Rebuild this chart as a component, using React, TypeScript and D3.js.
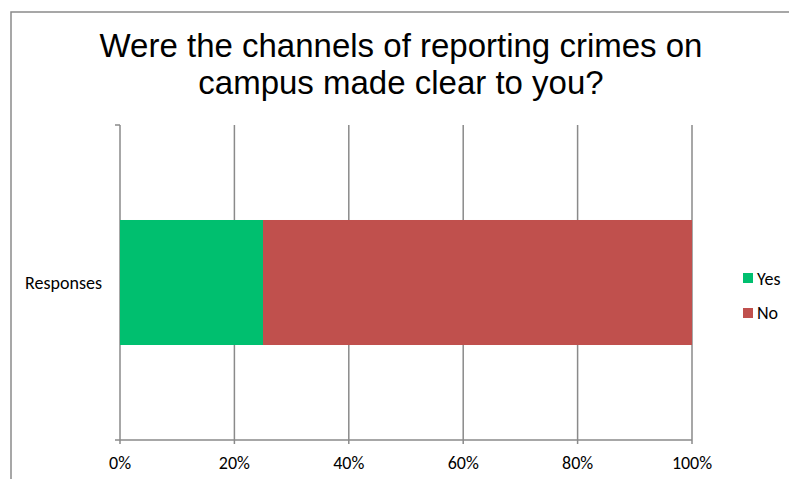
import React from "react";
import * as d3 from "d3";

const categories = ["Responses"];
const seriesNames = ["Yes", "No"];
const yesValues = [25];
const noValues = [75];
const seriesColors = ["#00BF6F", "#C0504D"];
const tickValues = [0, 20, 40, 60, 80, 100];
const titleLines = ["Were the channels of reporting crimes on", "campus made clear to you?"];

const W = 789;
const H = 479;

export default function App() {
  const x = d3.scaleLinear().domain([0, 100]).range([120, 692]);
  const y = d3.scaleBand<string>().domain(categories).range([125, 440]).paddingInner(0.4318).paddingOuter(0.4318);
  const stacked = d3.stack<any>().keys(seriesNames)(
    categories.map((c, i) => ({ cat: c, Yes: yesValues[i], No: noValues[i] }))
  );
  const labelFont = "Carlito, Lato, 'Open Sans', sans-serif";
  const grid = "#8a8a8a";
  const yTop = y.range()[0];
  const yBot = y.range()[1];
  return (
    <svg width={W} height={H} style={{ position: "absolute", left: 0, top: 0 }}>
      <rect x={0} y={0} width={W} height={H} fill="#fff" />
      <rect x={11} y={12} width={W + 20} height={H + 20} fill="none" stroke="#8a8a8a" strokeWidth={1.5} />
      {titleLines.map((t, i) => (
        <text key={i} x={401} y={57 + i * 37} textAnchor="middle" fontFamily="'Liberation Sans', Arial, sans-serif" fontSize={33} fill="#000">
          {t}
        </text>
      ))}
      {tickValues.map((v) => (
        <g key={v}>
          <line x1={x(v)} x2={x(v)} y1={yTop} y2={yBot + 4} stroke={grid} strokeWidth={1.5} />
          <text x={x(v)} y={469} textAnchor="middle" fontFamily={labelFont} fontSize={18} fill="#000">
            {v}%
          </text>
        </g>
      ))}
      <line x1={x(0) - 5} x2={x(0)} y1={yTop} y2={yTop} stroke={grid} strokeWidth={1.5} />
      <line x1={x(0) - 5} x2={x(100)} y1={yBot} y2={yBot} stroke={grid} strokeWidth={1.5} />
      {stacked.map((s, si) =>
        s.map((d, di) => (
          <rect
            key={si + "-" + di}
            x={x(d[0])}
            y={y(categories[di])}
            width={x(d[1]) - x(d[0])}
            height={y.bandwidth()}
            fill={seriesColors[si]}
          />
        ))
      )}
      {categories.map((c) => (
        <text key={c} x={102} y={(y(c) as number) + y.bandwidth() / 2 + 6} textAnchor="end" fontFamily={labelFont} fontSize={18} fill="#000">
          {c}
        </text>
      ))}
      {seriesNames.map((n, i) => (
        <g key={n}>
          <rect x={743} y={273 + i * 35} width={10} height={10} fill={seriesColors[i]} />
          <text x={757} y={285 + i * 34} fontFamily={labelFont} fontSize={18} fill="#000">
            {n}
          </text>
        </g>
      ))}
    </svg>
  );
}
